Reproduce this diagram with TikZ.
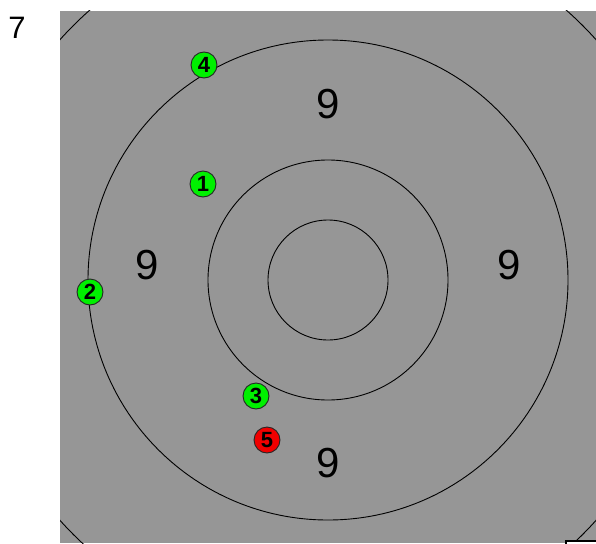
\documentclass[tikz,border=0pt]{standalone}
\usepackage{fontspec}
\setmainfont{Liberation Sans}
\usepackage{xcolor}
\usepackage{tikz}
\definecolor{targetgrey}{RGB}{150,150,150}
\definecolor{hitgreen}{RGB}{0,240,0}
\definecolor{hitred}{RGB}{240,0,0}

\begin{document}
\begin{tikzpicture}[
            x=1pt, y=-1pt,
            ring/.style={draw=black, line width=0.9pt},
            score/.style={font=\fontsize{42}{42}\selectfont, inner sep=0pt},
            shot/.style={circle, draw=black!85, line width=0.9pt, minimum size=26pt, inner sep=0pt, font=\bfseries\fontsize{22}{22}\selectfont},
            good/.style={shot, fill=hitgreen},
            bad/.style={shot, fill=hitred}
        ]
        \useasboundingbox (0,0) rectangle (596,543);
        \node[font=\fontsize{31}{31}\selectfont, inner sep=0pt] (series) at (17,28) {7};

        \fill[targetgrey] (60,11) rectangle (596,543);
        \begin{scope}
            \clip (60,11) rectangle (596,543);
            \draw[ring] (328,280) circle[radius=360];
            \draw[ring] (328,280) circle[radius=240];
            \draw[ring] (328,280) circle[radius=120];
            \draw[ring] (328,280) circle[radius=60];
            \draw[black, line width=2pt, fill=white] (565.5,540.5) rectangle (610,560);
        \end{scope}

        \node[score] (top) at (328,104) {9};
        \node[score] (left) at (147,265) {9};
        \node[score] (right) at (509,265) {9};
        \node[score] (bottom) at (328,463) {9};

        \node[good] (s1) at (203,184) {1};
        \node[good] (s2) at (90,292) {2};
        \node[good] (s3) at (256,396) {3};
        \node[good] (s4) at (204,65) {4};
        \node[bad] (s5) at (267,440) {5};
    \end{tikzpicture}
\end{document}
